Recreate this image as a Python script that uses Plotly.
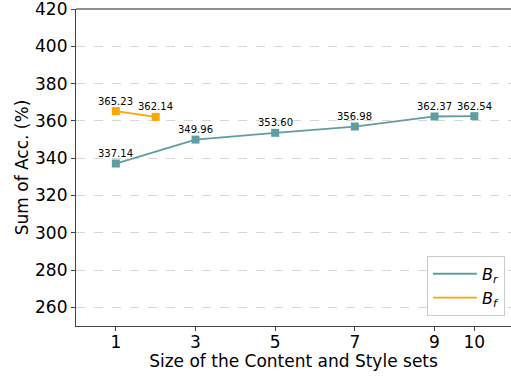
import plotly.graph_objects as go

br_x = [1, 3, 5, 7, 9, 10]
br_y = [337.14, 349.96, 353.60, 356.98, 362.37, 362.54]
bf_x = [1, 2]
bf_y = [365.23, 362.14]
x_ticks = [1, 3, 5, 7, 9, 10]
y_ticks = [260, 280, 300, 320, 340, 360, 380, 400, 420]

teal = "#5f9ea0"
orange = "#ffa500"

fig = go.Figure()
fig.add_trace(go.Scatter(x=br_x, y=br_y, mode="lines+markers",
                         line=dict(color=teal, width=1.8),
                         marker=dict(symbol="square", size=8, color=teal),
                         showlegend=False))
fig.add_trace(go.Scatter(x=bf_x, y=bf_y, mode="lines+markers",
                         line=dict(color=orange, width=1.8),
                         marker=dict(symbol="square", size=8, color=orange),
                         showlegend=False))
fig.add_trace(go.Scatter(x=[None], y=[None], mode="lines", line=dict(color=teal, width=1.8),
                         name="<i>B</i><sub><i>r</i></sub>"))
fig.add_trace(go.Scatter(x=[None], y=[None], mode="lines", line=dict(color=orange, width=1.8),
                         name="<i>B</i><sub><i>f</i></sub>"))

for xs, ys in ((br_x, br_y), (bf_x, bf_y)):
    for xv, yv in zip(xs, ys):
        fig.add_annotation(x=xv, y=yv, text=f"{yv:.2f}", showarrow=False, yshift=10,
                           font=dict(size=10, color="black", family="DejaVu Sans"))

fig.update_layout(
    width=511, height=376,
    margin=dict(l=76, r=0, t=9, b=50),
    plot_bgcolor="white", paper_bgcolor="white",
    font=dict(family="DejaVu Sans", color="black"),
    legend=dict(x=0.986, y=0.032, xanchor="right", yanchor="bottom",
                bordercolor="#cccccc", borderwidth=1, bgcolor="white",
                font=dict(size=16), itemwidth=44, tracegroupgap=0),
    xaxis=dict(range=[0, 10.92], tickvals=x_ticks, ticktext=[str(t) for t in x_ticks],
               showgrid=False, zeroline=False, showline=True, linecolor="#444444", linewidth=1.2,
               ticks="outside", ticklen=4, tickcolor="#444444", tickfont=dict(size=17),
               ticklabelstandoff=-4,
               title=dict(text="Size of the Content and Style sets", font=dict(size=17), standoff=0),
               automargin=False),
    yaxis=dict(range=[250, 420.01], tickvals=y_ticks, showgrid=True, gridcolor="#d6d6d6",
               griddash="dash", gridwidth=1.2, zeroline=False, showline=True, linecolor="#444444",
               linewidth=1.2, ticks="outside", ticklen=4, tickcolor="#444444",
               tickfont=dict(size=17), ticklabeloverflow="allow",
               title=dict(text="Sum of Acc. (%)", font=dict(size=17), standoff=2),
               automargin=False),
)
fig.add_shape(type="line", xref="paper", yref="paper", x0=0, x1=1, y0=1, y1=1,
              line=dict(color="#222222", width=1.2))

fig.write_html("out.html", config={"displayModeBar": False})
with open("out.html", "r", encoding="utf-8") as f:
    html = f.read()
html = html.replace("<head>", "<head><style>html,body{margin:0;padding:0;overflow:hidden}</style>", 1)
with open("out.html", "w", encoding="utf-8") as f:
    f.write(html)
